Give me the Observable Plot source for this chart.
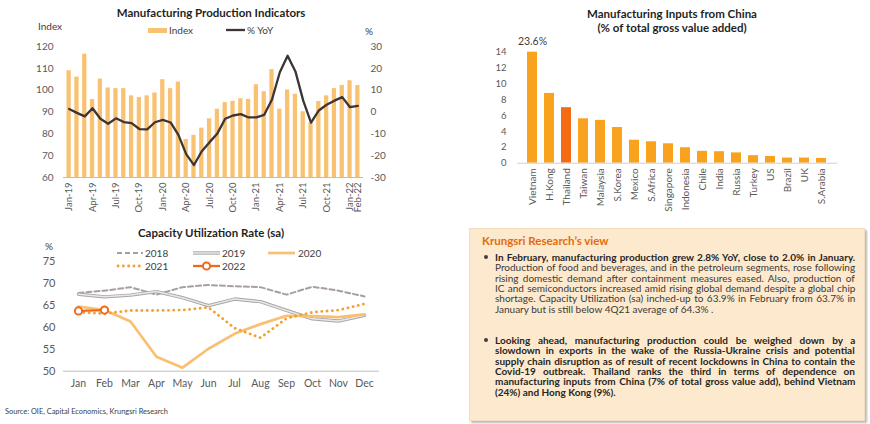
<!DOCTYPE html>
<html><head><meta charset="utf-8">
<script src="https://cdn.jsdelivr.net/npm/d3@7"></script>
<script src="https://cdn.jsdelivr.net/npm/@observablehq/plot@0.6"></script>
<style>
body{margin:0;background:#fff;font-family:Lato,"Open Sans",sans-serif;}
#root{position:relative;width:870px;height:424px;overflow:hidden;}
.title{font-weight:bold;font-size:11.5px;color:#1f1f1f;white-space:nowrap;}
.lab{font-size:10px;color:#404040;white-space:nowrap;}
.src{font-size:7.4px;color:#404040;white-space:nowrap;}
#box{position:absolute;left:469px;top:228px;width:394px;height:191px;background:#FDE9CD;border:1px solid #F3DDBF;box-shadow:2px 2px 2px rgba(0,0,0,0.28);}
.ln{position:absolute;left:495px;white-space:nowrap;color:#3a3a3a;transform-origin:0 50%;font-family:Lato,sans-serif;}
.b{font-weight:bold;color:#262626;}
.bul{position:absolute;width:4px;height:4px;border-radius:50%;background:#404040;}
</style>
</head><body><div id="root"></div>
<script>
// ---------- DATA ----------
const months = ["Jan-19","Feb-19","Mar-19","Apr-19","May-19","Jun-19","Jul-19","Aug-19","Sep-19","Oct-19","Nov-19","Dec-19",
"Jan-20","Feb-20","Mar-20","Apr-20","May-20","Jun-20","Jul-20","Aug-20","Sep-20","Oct-20","Nov-20","Dec-20",
"Jan-21","Feb-21","Mar-21","Apr-21","May-21","Jun-21","Jul-21","Aug-21","Sep-21","Oct-21","Nov-21","Dec-21",
"Jan-22","Feb-22"];
const indexValues = [108.9,106.0,116.5,95.7,105.1,101.0,100.7,100.7,97.4,96.6,97.4,98.7,
104.8,100.7,103.7,77.4,79.3,82.6,86.9,91.3,94.3,94.9,96.1,95.8,
102.5,99.3,109.4,91.3,100.1,98.1,90.1,85.0,94.8,97.4,100.7,102.2,
104.3,102.1];
const yoyValues = [1.4,-0.4,-2.0,1.7,-3.1,-5.4,-2.9,-4.6,-5.1,-7.8,-8.0,-4.7,
-3.6,-4.8,-10.5,-19.3,-24.3,-18.0,-13.8,-9.8,-3.1,-1.6,-1.0,-2.5,
-2.5,-1.3,5.7,18.2,25.8,18.6,5.2,-4.9,0.7,3.3,5.2,6.8,
2.2,2.8];
const indexTicks = [60,70,80,90,100,110,120];
const yoyOffset = 90; // right axis (%) shares the grid: -30..30 drawn on 60..120

const capMonths = ["Jan","Feb","Mar","Apr","May","Jun","Jul","Aug","Sep","Oct","Nov","Dec"];
const cap2018 = [67.8,68.3,69.1,67.4,69.1,69.6,69.3,69.1,67.4,69.2,68.3,67.0];
const cap2019 = [67.5,66.9,67.3,68.1,66.7,64.9,66.4,65.8,63.8,61.9,61.4,62.7];
const cap2020 = [64.7,63.9,61.3,53.3,50.8,55.1,58.5,60.7,62.6,62.5,62.3,62.9];
const cap2021 = [63.4,63.1,63.8,63.8,63.9,64.5,59.8,57.6,62.0,63.4,63.9,65.3];
const cap2022 = [63.7,63.9];
const capTicks = [50,55,60,65,70,75];

const countries = ["Vietnam","H.Kong","Thailand","Taiwan","Malaysia","S.Korea","Mexico","S.Africa","Singapore","Indonesia","Chile","India","Russia","Turkey","US","Brazil","UK","S.Arabia"];
const shares = [23.6,8.8,7.0,5.6,5.4,4.5,2.9,2.7,2.45,1.95,1.5,1.45,1.3,0.95,0.85,0.65,0.65,0.6];
const shareTicks = [0,2,4,6,8,10,12,14];

const para1 = [
 ["b","In February, manufacturing production grew 2.8% YoY, close to 2.0% in January."],
 ["","Production of food and beverages, and in the petroleum segments, rose following"],
 ["","rising domestic demand after containment measures eased. Also, production of"],
 ["","IC and semiconductors increased amid rising global demand despite a global chip"],
 ["","shortage. Capacity Utilization (sa) inched-up to 63.9% in February from 63.7% in"],
 ["","January but is still below 4Q21 average of 64.3% ."]
];
const para2 = [
 ["b","Looking ahead, manufacturing production could be weighed down by a"],
 ["b","slowdown in exports in the wake of the Russia-Ukraine crisis and potential"],
 ["b","supply chain disruption as of result of recent lockdowns in China to contain the"],
 ["b","Covid-19 outbreak. Thailand ranks the third in terms of dependence on"],
 ["b","manufacturing inputs from China (7% of total gross value add), behind Vietnam"],
 ["b","(24%) and Hong Kong (9%)."]
];

// ---------- LAYOUT HELPERS ----------
const root = document.getElementById("root");
const FONT = "Lato, 'Open Sans', sans-serif";
function place(el,x,y,ax=0,ay=0.5){el.style.position="absolute";el.style.left=x+"px";el.style.top=y+"px";el.style.transform=`translate(${-ax*100}%,${-ay*100}%)`;root.appendChild(el);return el;}
function txt(s,x,y,cls,ax=0,ay=0.5,extra){const d=document.createElement("div");d.className=cls;d.textContent=s;if(extra)Object.assign(d.style,extra);return place(d,x,y,ax,ay);}
function putSvg(svg,x,y){const d=document.createElement("div");d.style.position="absolute";d.style.left=x+"px";d.style.top=y+"px";d.appendChild(svg);root.appendChild(d);}
function swatch(x,y,w,h,inner){const ns="http://www.w3.org/2000/svg";const s=document.createElementNS(ns,"svg");s.setAttribute("width",w);s.setAttribute("height",h);s.innerHTML=inner;s.style.position="absolute";s.style.left=x+"px";s.style.top=(y-h/2)+"px";s.style.overflow="visible";root.appendChild(s);}
const baseStyle = {fontFamily:FONT,background:"transparent",color:"#595959",overflow:"visible"};

// ---------- PANEL 1 ----------
const mp = months.map((m,i)=>({month:m,index:indexValues[i],yoy:yoyValues[i]}));
const xTicks = months.filter((m,i)=>i%3===0||i===months.length-1);
const p1 = Plot.plot({
  width:400,height:180,marginLeft:63,marginRight:37,marginTop:6,marginBottom:43,
  style:{...baseStyle,fontSize:"10px"},
  x:{type:"band",domain:months,padding:0.45},
  y:{domain:[60,120]},
  marks:[
    Plot.barY(mp,{x:"month",y1:60,y2:"index",fill:"#F9C273"}),
    Plot.ruleY([60],{stroke:"#BFBFBF"}),
    Plot.lineY(mp,{x:"month",y:d=>d.yoy+yoyOffset,stroke:"#3D3435",strokeWidth:2.3}),
    Plot.axisY(indexTicks,{anchor:"left",tickSize:0,tickPadding:10,label:null,fontSize:10}),
    Plot.axisY(indexTicks,{anchor:"right",tickSize:0,tickPadding:7,label:null,fontSize:10,tickFormat:d=>String(d-yoyOffset)}),
    Plot.axisX(xTicks,{tickRotate:-90,tickSize:0,tickPadding:5,label:null,fontSize:9.5})
  ]
});
putSvg(p1,0,40);
txt("Manufacturing Production Indicators",211,12,"title",0.5,0.5);
txt("Index",38,26,"lab",0,0.5);
txt("%",365,31,"lab",0,0.5);
swatch(148,30,19,5,'<rect x="0" y="0" width="19" height="5" fill="#F9C273"/>');
txt("Index",169,30,"lab",0,0.5);
swatch(226,30,19,4,'<line x1="0" y1="2" x2="19" y2="2" stroke="#3D3435" stroke-width="2.3"/>');
txt("% YoY",247,30,"lab",0,0.5);

// ---------- PANEL 2 ----------
const rows = (arr,yr)=>arr.map((v,i)=>({month:capMonths[i],value:v,year:yr}));
const r18=rows(cap2018,"2018"),r19=rows(cap2019,"2019"),r20=rows(cap2020,"2020"),r21=rows(cap2021,"2021"),r22=rows(cap2022,"2022");
const C18="#A89EA2",C19o="#A8A6A6",C19i="#E9E7E7",C20="#F9BF72",C21="#F2A032",C22="#EE6A1C";
const p2 = Plot.plot({
  width:400,height:150,marginLeft:63,marginRight:21,marginTop:10.7,marginBottom:29.3,
  style:{...baseStyle,fontSize:"10.5px"},
  x:{type:"point",domain:capMonths,padding:0.5},
  y:{domain:[50,75]},
  marks:[
    Plot.ruleY([50],{stroke:"#BFBFBF"}),
    Plot.line(r18,{x:"month",y:"value",stroke:C18,strokeWidth:2,strokeDasharray:"5,3"}),
    Plot.line(r19,{x:"month",y:"value",stroke:C19o,strokeWidth:3.4}),
    Plot.line(r19,{x:"month",y:"value",stroke:C19i,strokeWidth:1.5}),
    Plot.line(r20,{x:"month",y:"value",stroke:C20,strokeWidth:2.7}),
    Plot.line(r21,{x:"month",y:"value",stroke:C21,strokeWidth:2.8,strokeDasharray:"0.1,5.2",strokeLinecap:"round"}),
    Plot.line(r22,{x:"month",y:"value",stroke:C22,strokeWidth:2.3}),
    Plot.dot(r22,{x:"month",y:"value",r:3.6,fill:"white",stroke:C22,strokeWidth:2}),
    Plot.axisY(capTicks,{tickSize:0,tickPadding:8,label:null,fontSize:11}),
    Plot.axisX(capMonths,{tickSize:0,tickPadding:8,label:null,fontSize:10.5})
  ]
});
putSvg(p2,0,250);
txt("Capacity Utilization Rate (sa)",211,232,"title",0.5,0.5);
txt("%",45,246,"lab",0,0.5);
swatch(117,253,26,4,`<line x1="0" y1="2" x2="26" y2="2" stroke="${C18}" stroke-width="2" stroke-dasharray="5,3"/>`);
txt("2018",145,253,"lab",0,0.5);
swatch(193,253,27,4,`<line x1="0" y1="2" x2="27" y2="2" stroke="${C19o}" stroke-width="3.4"/><line x1="0" y1="2" x2="27" y2="2" stroke="${C19i}" stroke-width="1.5"/>`);
txt("2019",222,253,"lab",0,0.5);
swatch(268,253,27,4,`<line x1="0" y1="2" x2="27" y2="2" stroke="${C20}" stroke-width="2.7"/>`);
txt("2020",298,253,"lab",0,0.5);
swatch(117,266,26,4,`<line x1="1" y1="2" x2="26" y2="2" stroke="${C21}" stroke-width="2.8" stroke-dasharray="0.1,5.2" stroke-linecap="round"/>`);
txt("2021",145,266,"lab",0,0.5);
swatch(193,266,27,8,`<line x1="0" y1="4" x2="27" y2="4" stroke="${C22}" stroke-width="2.3"/><circle cx="13.5" cy="4" r="3.6" fill="white" stroke="${C22}" stroke-width="2"/>`);
txt("2022",222,266,"lab",0,0.5);
txt("Source: OIE, Capital Economics, Krungsri Research",5,411,"src",0,0.5);

// ---------- PANEL 3 ----------
const china = countries.map((c,i)=>({country:c,share:shares[i]}));
const p3 = Plot.plot({
  width:430,height:170,marginLeft:77,marginRight:33,marginTop:6.7,marginBottom:52.3,
  style:{...baseStyle,fontSize:"10px"},
  x:{type:"band",domain:countries,padding:0.4},
  y:{domain:[0,14],clamp:true},
  marks:[
    Plot.barY(china.filter(d=>d.country!=="Thailand"),{x:"country",y:"share",fill:"#F8A21E"}),
    Plot.barY(china.filter(d=>d.country==="Thailand"),{x:"country",y:"share",fill:"#F36B12"}),
    Plot.ruleY([0],{stroke:"#D0D0D0"}),
    Plot.text(china.filter(d=>d.country==="Vietnam"),{x:"country",y:"share",text:d=>d.share.toFixed(1)+"%",dy:-11,fontSize:10.5,fill:"#404040"}),
    Plot.axisY(shareTicks,{tickSize:0,tickPadding:11,label:null,fontSize:9.5}),
    Plot.axisX(countries,{tickRotate:-90,tickSize:0,tickPadding:5,label:null,fontSize:10})
  ]
});
putSvg(p3,440,45);
txt("Manufacturing Inputs from China",672,13,"title",0.5,0.5);
txt("(% of total gross value added)",672,27,"title",0.5,0.5);

// ---------- TEXT BOX ----------
const box=document.createElement("div");box.id="box";root.appendChild(box);
txt("Krungsri Research\u2019s view",482,240,"",0,0.5,{fontWeight:"bold",fontSize:"11.5px",color:"#E36C0A",whiteSpace:"nowrap"});
const LW=360, LH=10.33;
const allLines=[];
function para(lines,y0){
  const bl=document.createElement("div");bl.className="bul";place(bl,484,y0,0,0.5);
  lines.forEach((l,i)=>{
    const s=document.createElement("span");s.className="ln "+l[0];s.textContent=l[1];
    s.style.top=(y0+i*LH)+"px";
    root.appendChild(s);allLines.push({el:s,last:i===lines.length-1,text:l[1]});
  });
}
para(para1,257);
para(para2,340);
const fs=10.0;
allLines.forEach(o=>{o.el.style.fontSize=fs+"px";o.el.style.lineHeight=LH+"px";});
const maxW=d3.max(allLines,o=>o.el.offsetWidth);
const sx=Math.min(1,LW/maxW);
const target=LW/sx;
allLines.forEach(o=>{
  const w=o.el.offsetWidth;const n=(o.text.match(/ /g)||[]).length;
  if(!o.last&&n>0)o.el.style.wordSpacing=((target-w)/n)+"px";
  o.el.style.transform=`translateY(-50%) scaleX(${sx})`;
});
</script></body></html>
